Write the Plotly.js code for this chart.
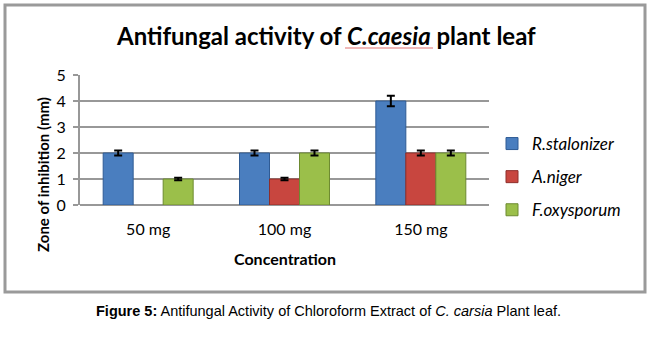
<!DOCTYPE html>
<html>
<head>
<meta charset="utf-8">
<script src="https://cdn.plot.ly/plotly-3.0.1.min.js"></script>
<style>html,body{margin:0;padding:0;background:#fff;}#chart{width:649px;height:350px;}</style>
</head>
<body>
<div id="chart"></div>
<script>
const categories = ['50 mg', '100 mg', '150 mg'];
const rStalonizer = [2, 2, 4];
const aNiger = [null, 1, 2];
const fOxysporum = [1, 2, 2];
const errRStalonizer = [0.1, 0.1, 0.2];
const errANiger = [null, 0.05, 0.1];
const errFOxysporum = [0.05, 0.1, 0.1];
const seriesNames = ['R.stalonizer', 'A.niger', 'F.oxysporum'];
const yTicks = [0, 1, 2, 3, 4, 5];

const colors = ['#4A7EBF', '#C8463F', '#9BBF4A'];
const lineColors = ['#2F5B94', '#8E2E2A', '#6D8A30'];
const values = [rStalonizer, aNiger, fOxysporum];
const errs = [errRStalonizer, errANiger, errFOxysporum];

const traces = values.map((v, i) => ({
  type: 'bar',
  x: categories,
  y: v,
  name: seriesNames[i],
  legendgroup: 'g' + i,
  marker: {color: colors[i], line: {color: lineColors[i], width: 1}},
  error_y: {type: 'data', array: errs[i], visible: true, color: '#000', thickness: 2, width: 4}
}));

const W = 409, H = 130, L = 80, T = 75;
const px = x => (x - L) / W;
const py = y => (T + H - y) / H;

const layout = {
  width: 649, height: 350,
  margin: {l: 80, r: 160, t: 75, b: 145},
  paper_bgcolor: '#fff', plot_bgcolor: '#fff',
  barmode: 'group', bargap: 0.34, bargroupgap: 0,
  font: {family: 'Lato, sans-serif', color: '#000'},
  showlegend: true,
  legend: {
    x: px(492), xanchor: 'left', y: py(126), yanchor: 'top',
    font: {family: 'Lato, sans-serif', size: 17, style: 'italic', color: '#000'},
    tracegroupgap: 8, itemwidth: 30, bgcolor: 'rgba(0,0,0,0)'
  },
  xaxis: {
    type: 'category', showgrid: false, showline: false, ticks: '',
    tickfont: {family: 'Lato, sans-serif', size: 16, color: '#000'},
    ticklabelstandoff: 13
  },
  yaxis: {
    range: [0, 5], tickvals: yTicks, ticktext: yTicks.map(String),
    showgrid: true, gridcolor: '#989898', gridwidth: 2,
    zeroline: true, zerolinecolor: '#989898', zerolinewidth: 2,
    showline: true, linecolor: '#989898', linewidth: 2,
    ticks: 'outside', ticklen: 5, tickcolor: '#989898', tickwidth: 2,
    ticklabelstandoff: 4,
    tickfont: {family: 'Lato, sans-serif', size: 16, color: '#000'}
  },
  annotations: [
    {text: '<b>Antifungal activity of <i>C.caesia</i> plant leaf</b>', xref: 'paper', yref: 'paper',
     x: px(326), y: py(36), xanchor: 'center', yanchor: 'middle', showarrow: false,
     font: {family: 'Lato, sans-serif', size: 24, color: '#000'}},
    {text: '<b>Zone of inhibition (mm)</b>', xref: 'paper', yref: 'paper', textangle: -90,
     x: px(43), y: py(175), xanchor: 'center', yanchor: 'middle', showarrow: false,
     font: {family: 'Lato, sans-serif', size: 15, color: '#000'}},
    {text: '<b>Concentration</b>', xref: 'paper', yref: 'paper',
     x: px(285), y: py(258), xanchor: 'center', yanchor: 'middle', showarrow: false,
     font: {family: 'Lato, sans-serif', size: 16, color: '#000'}},
    {text: '<b>Figure 5:</b> Antifungal Activity of Chloroform Extract of <i>C. carsia</i> Plant leaf.',
     xref: 'paper', yref: 'paper', x: px(328), y: py(311), xanchor: 'center', yanchor: 'middle',
     showarrow: false, font: {family: 'Liberation Sans, Arial, sans-serif', size: 14.5, color: '#000'}}
  ],
  shapes: [
    {type: 'rect', xref: 'paper', yref: 'paper', x0: px(5), x1: px(645), y0: py(5), y1: py(292),
     line: {color: '#9a9a9a', width: 3}, fillcolor: 'rgba(0,0,0,0)', layer: 'below'},
    {type: 'line', xref: 'paper', yref: 'paper', x0: px(345), x1: px(433), y0: py(48), y1: py(48),
     line: {color: '#E07070', width: 1}}
  ]
};

Plotly.newPlot('chart', traces, layout, {displayModeBar: false, staticPlot: true});
</script>
</body>
</html>
